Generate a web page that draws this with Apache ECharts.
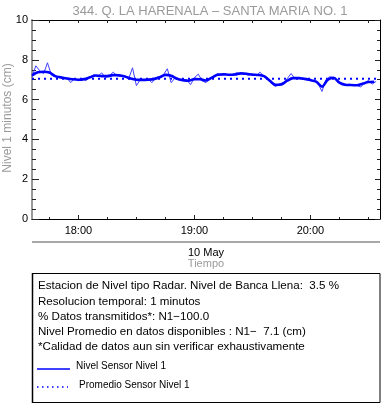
<!DOCTYPE html>
<html><head><meta charset="utf-8">
<script src="https://cdn.jsdelivr.net/npm/echarts@6/dist/echarts.min.js"></script>
<style>html,body{margin:0;padding:0;background:#fff}#c{width:382px;height:404px}</style>
</head><body><div id="c"></div>
<script>
// time in minutes after 17:00 (10 May)
const startMinute = 36;
const rawStep = 2;      // raw samples shown every 2 minutes
const rawLevel = [7.15,7.70,7.45,7.30,7.85,7.25,7.15,7.10,7.05,7.10,
  6.85,7.05,6.95,7.05,6.95,7.15,7.25,7.15,7.35,7.10,
  7.20,7.38,7.20,7.15,7.20,7.05,7.60,6.70,7.00,6.95,
  7.05,6.85,7.10,7.15,7.25,7.55,6.85,7.10,7.00,6.95,
  7.00,6.75,7.10,7.28,6.95,6.85,7.05,7.20,7.30,7.25,
  7.30,7.20,7.28,7.35,7.30,7.28,7.22,7.30,7.20,7.38,
  7.15,7.00,6.80,6.66,6.80,6.85,7.05,7.31,7.05,7.10,
  7.05,7.00,6.95,6.95,6.80,6.41,7.00,7.15,7.10,6.90,
  6.75,6.70,6.78,6.70,6.72,6.63,6.85,6.96,6.78,6.92];
const smoothStep = 3;   // smoothed curve every 3 minutes
const smoothLevel = [7.22,7.38,7.40,7.36,7.18,7.12,7.06,7.02,7.00,7.03,
  7.12,7.21,7.18,7.18,7.23,7.22,7.16,7.06,7.00,6.99,
  7.00,7.03,7.12,7.24,7.20,7.05,6.98,6.95,7.03,7.02,
  6.96,7.10,7.25,7.27,7.25,7.26,7.32,7.30,7.25,7.24,
  7.18,6.95,6.74,6.76,6.95,7.08,7.08,7.04,6.98,6.90,
  6.65,7.00,7.10,6.85,6.75,6.73,6.72,6.80,6.88,6.90];
const averageLevel = 7.05;
const averageSpan = [36, 214];
const xTickMinutes = [45,60,75,90,105,120,135,150,165,180,195,210];
const xHourMinutes = [60,120,180];
const titleText = '344. Q. LA HARENALA \u2013 SANTA MARIA NO. 1';
const yName = 'Nivel 1 minutos (cm)';
const dateText = '10 May';
const xName = 'Tiempo';
const infoLines = [
  'Estacion de Nivel tipo Radar. Nivel de Banca Llena:  3.5 %',
  'Resolucion temporal: 1 minutos',
  '% Datos transmitidos*: N1\u2212100.0',
  'Nivel Promedio en datos disponibles : N1\u2212  7.1 (cm)',
  '*Calidad de datos aun sin verificar exhaustivamente'
];
const legendNames = ['Nivel Sensor Nivel 1', 'Promedio Sensor Nivel 1'];

const FONT = '"Liberation Sans", Arial, Helvetica, sans-serif';
const fmt = v => { const h = Math.floor(v/60)+17, m = v%60; return h + ':' + (m<10?'0':'') + m; };

const chart = echarts.init(document.getElementById('c'), null, {renderer:'canvas'});
const G = {left:32, top:20, width:348, height:199, containLabel:false, outerBoundsMode:'none'};
const xCommon = {type:'value', min:36, max:216, splitLine:{show:false}};
const option = {
  animation:false,
  backgroundColor:'#fff',
  textStyle:{fontFamily:FONT},
  title:{text:titleText, left:205, top:0, textAlign:'center',
    textStyle:{color:'#9a9a9a', fontSize:13, fontWeight:'normal', fontFamily:FONT}},
  grid:G,
  xAxis:[
    Object.assign({}, xCommon, {position:'bottom',
      axisLine:{show:true, onZero:false, lineStyle:{color:'#000', width:1}},
      axisTick:{show:true, inside:true, length:2, customValues:xTickMinutes, lineStyle:{color:'#222'}},
      axisLabel:{customValues:xHourMinutes, formatter:fmt, color:'#000', fontSize:11, margin:6, fontFamily:FONT}}),
    Object.assign({}, xCommon, {position:'bottom',
      axisLine:{show:false, onZero:false},
      axisTick:{show:true, inside:true, length:4, customValues:xHourMinutes, lineStyle:{color:'#222'}},
      axisLabel:{show:false}}),
    Object.assign({}, xCommon, {position:'top',
      axisLine:{show:true, onZero:false, lineStyle:{color:'#000', width:1}},
      axisTick:{show:true, inside:true, length:3, customValues:xTickMinutes, lineStyle:{color:'#222'}},
      axisLabel:{show:false}})
  ],
  yAxis:[
    {type:'value', min:0, max:10, interval:2, position:'left',
      axisLine:{show:true, onZero:false, lineStyle:{color:'#999', width:2}},
      axisTick:{show:true, inside:true, length:7, lineStyle:{color:'#222'}},
      minorTick:{show:true, splitNumber:4, length:4, lineStyle:{color:'#222'}},
      axisLabel:{color:'#000', fontSize:11, margin:4, fontFamily:FONT},
      splitLine:{show:false}},
    {type:'value', min:0, max:10, interval:2, position:'right',
      axisLine:{show:true, onZero:false, lineStyle:{color:'#000', width:1}},
      axisTick:{show:true, inside:true, length:5, lineStyle:{color:'#222'}},
      minorTick:{show:true, splitNumber:4, length:3, lineStyle:{color:'#222'}},
      axisLabel:{show:false}, splitLine:{show:false}}
  ],
  series:[
    {type:'line', name:legendNames[0], xAxisIndex:0, yAxisIndex:0, showSymbol:false,
      data:rawLevel.map((v,i)=>[startMinute+i*rawStep, v]),
      lineStyle:{color:'#4040ff', width:1}, z:2},
    {type:'line', name:'smooth', xAxisIndex:0, yAxisIndex:0, showSymbol:false, smooth:0.3,
      data:smoothLevel.map((v,i)=>[startMinute+i*smoothStep, v]),
      lineStyle:{color:'#0000ff', width:2.6}, z:3},
    {type:'line', name:legendNames[1], xAxisIndex:0, yAxisIndex:0, showSymbol:false,
      data:averageSpan.map(t=>[t, averageLevel]),
      lineStyle:{color:'#0000ff', width:2, type:[2,4]}, z:1}
  ],
  graphic:[
    {type:'text', x:8, y:118, rotation:Math.PI/2, style:{text:yName, fill:'#9a9a9a', font:'12px '+FONT, textAlign:'center', textVerticalAlign:'middle'}},
    {type:'line', shape:{x1:32, y1:242, x2:380, y2:242}, style:{stroke:'#a8a8a8', lineWidth:2}},
    {type:'text', x:206, y:253, style:{text:dateText, fill:'#000', font:'11px '+FONT, textAlign:'center', textVerticalAlign:'middle'}},
    {type:'text', x:206, y:264, style:{text:xName, fill:'#9a9a9a', font:'11px '+FONT, textAlign:'center', textVerticalAlign:'middle'}},
    {type:'rect', shape:{x:32.5, y:273.5, width:347.5, height:129}, style:{fill:'none', stroke:'#000', lineWidth:1}},
    {type:'line', shape:{x1:32.5, y1:273, x2:32.5, y2:403}, style:{stroke:'#000', lineWidth:1.5}}
  ].concat(infoLines.map((t,i)=>({type:'text', x:38, y:286+i*15.3,
      style:{text:t, fill:'#000', font:'11.6px '+FONT, textVerticalAlign:'middle'}})))
   .concat([
    {type:'line', shape:{x1:37, y1:369, x2:70, y2:369}, style:{stroke:'#0000ff', lineWidth:1.5}},
    {type:'text', x:76, y:366.5, style:{text:legendNames[0], fill:'#000', font:'10px '+FONT, textVerticalAlign:'middle'}},
    {type:'line', shape:{x1:37, y1:387, x2:68, y2:387}, style:{stroke:'#0000ff', lineWidth:1.5, lineDash:[1.5,3.5]}},
    {type:'text', x:79, y:385, style:{text:legendNames[1], fill:'#000', font:'10px '+FONT, textVerticalAlign:'middle'}}
   ])
};
chart.setOption(option);
</script></body></html>
